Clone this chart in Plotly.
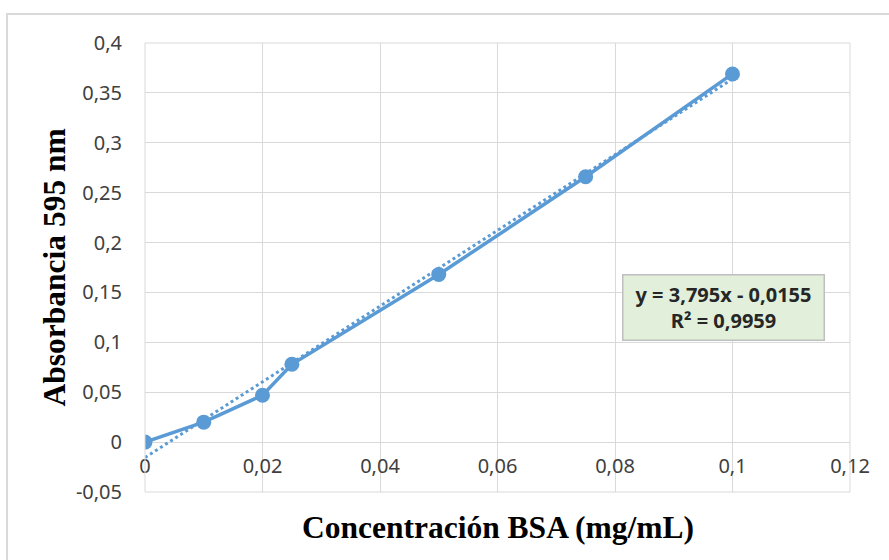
import plotly.graph_objects as go

conc = [0, 0.01, 0.02, 0.025, 0.05, 0.075, 0.1]
absorb = [0.0, 0.020, 0.047, 0.078, 0.168, 0.266, 0.369]
slope = 3.795
intercept = -0.0155
trend_x = [0, 0.1]
trend_y = [slope * x + intercept for x in trend_x]

x_ticks = [0, 0.02, 0.04, 0.06, 0.08, 0.1, 0.12]
x_ticktext = ["0", "0,02", "0,04", "0,06", "0,08", "0,1", "0,12"]
y_ticks = [-0.05, 0, 0.05, 0.1, 0.15, 0.2, 0.25, 0.3, 0.35, 0.4]
y_ticktext = ["-0,05", "0", "0,05", "0,1", "0,15", "0,2", "0,25", "0,3", "0,35", "0,4"]

blue = "#5b9bd5"
fig = go.Figure()
fig.add_trace(go.Scatter(x=trend_x, y=trend_y, mode="lines",
                         line=dict(color=blue, width=3, dash="dot"),
                         hoverinfo="skip", showlegend=False))
fig.add_trace(go.Scatter(x=conc, y=absorb, mode="lines+markers",
                         line=dict(color=blue, width=3.5),
                         marker=dict(color=blue, size=15),
                         showlegend=False))

tick_font = dict(family="Noto Sans, Open Sans, sans-serif", size=20, color="#404040")
title_font = dict(family="Liberation Serif, Times New Roman, serif", size=31.5, color="#000000")

fig.update_layout(
    width=889, height=560,
    margin=dict(l=145, r=39, t=43, b=68),
    paper_bgcolor="white", plot_bgcolor="white",
    xaxis=dict(range=[0, 0.12], tickvals=x_ticks, ticktext=x_ticktext,
               showgrid=True, gridcolor="#d9d9d9", gridwidth=1,
               zeroline=False, showline=False,
               anchor="free", position=0.1114,
               ticks="", ticklabelstandoff=10, tickfont=tick_font),
    yaxis=dict(range=[-0.05, 0.4], tickvals=y_ticks, ticktext=y_ticktext,
               showgrid=True, gridcolor="#d9d9d9", gridwidth=1,
               zeroline=False, showline=False,
               ticks="", ticklabelstandoff=22, tickfont=tick_font),
    shapes=[
        dict(type="rect", xref="paper", yref="paper",
             x0=-0.1957, x1=1.2, y0=-0.3, y1=1.0646,
             line=dict(color="#d9d9d9", width=2), fillcolor="rgba(0,0,0,0)", layer="below"),
        dict(type="line", xref="paper", yref="paper", x0=0, x1=1, y0=0, y1=0,
             line=dict(color="#d9d9d9", width=1)),
        dict(type="line", xref="paper", yref="paper", x0=1, x1=1, y0=0, y1=1,
             line=dict(color="#d9d9d9", width=1)),
        dict(type="line", xref="paper", yref="paper", x0=0, x1=1, y0=1, y1=1,
             line=dict(color="#d9d9d9", width=1)),
        dict(type="line", xref="paper", yref="paper", x0=0, x1=0, y0=0, y1=1,
             line=dict(color="#d9d9d9", width=1)),
    ],
    annotations=[
        dict(x=0.5, y=-0.078, xref="paper", yref="paper", text="<b>Concentración BSA (mg/mL)</b>",
             showarrow=False, font=title_font, xanchor="center", yanchor="middle"),
        dict(x=-0.1277, y=0.5, xref="paper", yref="paper", text="<b>Absorbancia 595 nm</b>",
             showarrow=False, font=title_font, textangle=-90, xanchor="center", yanchor="middle"),
        dict(x=0.09855, y=0.135, xref="x", yref="y",
             text="<b>y = 3,795x - 0,0155</b><br><b>R² = 0,9959</b>",
             showarrow=False, align="center",
             font=dict(family="Noto Sans, Open Sans, sans-serif", size=20, color="#262626"),
             bgcolor="#e2efda", bordercolor="#bfbfbf", borderwidth=1.5,
             width=198, height=62, xanchor="center", yanchor="middle"),
    ],
)

fig.write_html("out.html")
